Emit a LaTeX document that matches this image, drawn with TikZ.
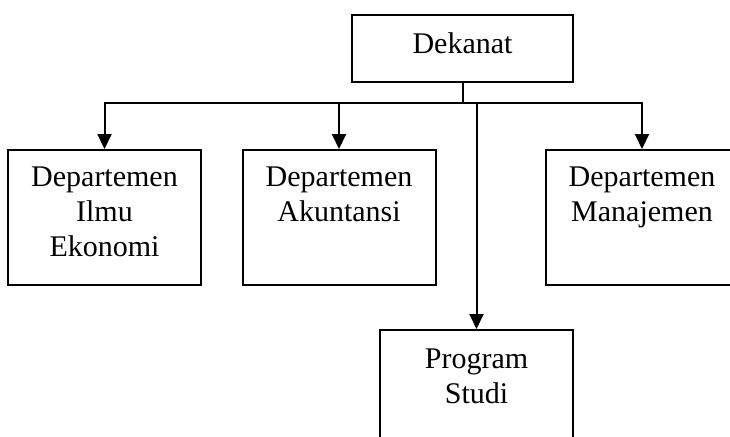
\documentclass[tikz,border=0pt]{standalone}
\usepackage{fontspec}
\setmainfont{Liberation Serif}
\usetikzlibrary{arrows.meta}
\tikzset{every picture/.style={line width=2pt, x=1pt, y=-1pt}}
\tikzset{unit box/.style={draw, fill=white, inner sep=0pt, align=center, anchor=north, text width=193pt, text height=36pt, text depth=99pt, font=\fontsize{30}{35}\selectfont}}
\tikzset{panah/.style={-{Triangle[width=14pt,length=15pt]}}}

\begin{document}
\begin{tikzpicture}
        \useasboundingbox (0,0) rectangle (730,436);
        \clip (0,0) rectangle (730,436);
        \node[unit box, text width=221pt, text height=38pt, text depth=29pt] (dekanat) at (462.5,14) {Dekanat};
        \node[unit box] (ilmu) at (104.5,149) {Departemen\\Ilmu\\Ekonomi};
        \node[unit box] (akuntansi) at (339,149) {Departemen\\Akuntansi};
        \node[unit box] (manajemen) at (642,149) {Departemen\\Manajemen};
        \node[unit box, text height=38pt, text depth=120pt] (prodi) at (476.5,329) {Program\\Studi};
        \coordinate (bus) at (dekanat.south |- 0,103);
        \draw (dekanat.south) -- (bus);
        \draw[panah] (bus) -| (ilmu.north);
        \draw[panah] (bus) -| (manajemen.north);
        \draw[panah] (akuntansi.north |- bus) -- (akuntansi.north);
        \draw[panah] (prodi.north |- bus) -- (prodi.north);
    \end{tikzpicture}
\end{document}
